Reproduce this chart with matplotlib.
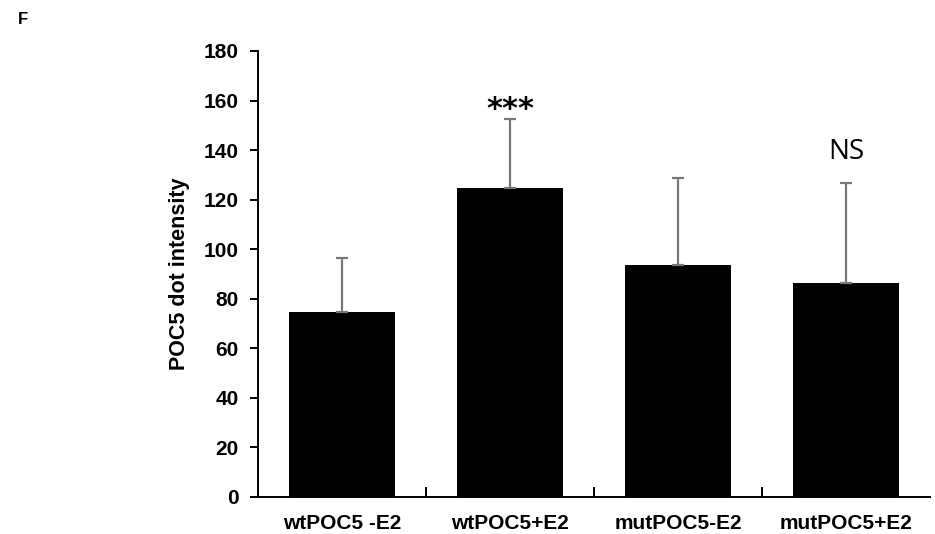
import matplotlib.pyplot as plt

groups = ['wtPOC5 -E2', 'wtPOC5+E2', 'mutPOC5-E2', 'mutPOC5+E2']
means = [74.8, 124.7, 93.7, 86.2]
errors = [21.8, 27.8, 34.9, 40.4]
marks = ['', '***', '', 'NS']
y_ticks = [0, 20, 40, 60, 80, 100, 120, 140, 160, 180]


def main():
    plt.rcParams['font.family'] = ['Liberation Sans', 'DejaVu Sans']

    fig = plt.figure(figsize=(9.35, 5.34), dpi=100)
    ax = fig.add_axes([258 / 935, 37 / 534, 672 / 935, 446 / 534])

    pos = list(range(len(groups)))
    ax.bar(pos, means, width=0.63, color='black', zorder=2)
    ax.errorbar(pos, means, yerr=[[0] * len(means), errors], fmt='none',
                ecolor='#777777', elinewidth=1.6, capsize=4, capthick=1.6,
                zorder=3)

    # significance labels above the error bars
    for x, m, e, s in zip(pos, means, errors, marks):
        if s == '***':
            ax.text(x, m + e + 0.5, s, ha='center', va='baseline',
                    fontsize=22, fontweight='bold', family='DejaVu Sans')
        elif s:
            ax.text(x, m + e + 12.8, s, ha='center', va='center',
                    fontsize=20, family='Open Sans')

    ax.set_xlim(-0.5, len(groups) - 0.5)
    ax.set_ylim(0, 180)
    ax.set_yticks(y_ticks)
    ax.set_yticklabels([str(v) for v in y_ticks], fontsize=15,
                       fontweight='bold')
    ax.set_xticks(pos)
    ax.set_xticklabels(groups, fontsize=15, fontweight='bold')
    ax.tick_params(axis='x', length=0, pad=12)
    ax.tick_params(axis='y', direction='out', length=6, width=1.4, pad=8)

    # inward ticks between categories on the x axis
    ax.set_xticks([p + 0.5 for p in pos[:-1]], minor=True)
    ax.tick_params(axis='x', which='minor', direction='in', length=7,
                   width=1.4)

    for side in ['top', 'right']:
        ax.spines[side].set_visible(False)
    for side in ['left', 'bottom']:
        ax.spines[side].set_linewidth(1.4)

    ax.set_ylabel('POC5 dot intensity', fontsize=15.5, fontweight='bold',
                  labelpad=10)

    fig.text(18 / 935, 1 - 20 / 534, 'F', fontsize=12, fontweight='bold',
             ha='left', va='center')

    plt.savefig('out.png', dpi=100)


if __name__ == '__main__':
    main()
